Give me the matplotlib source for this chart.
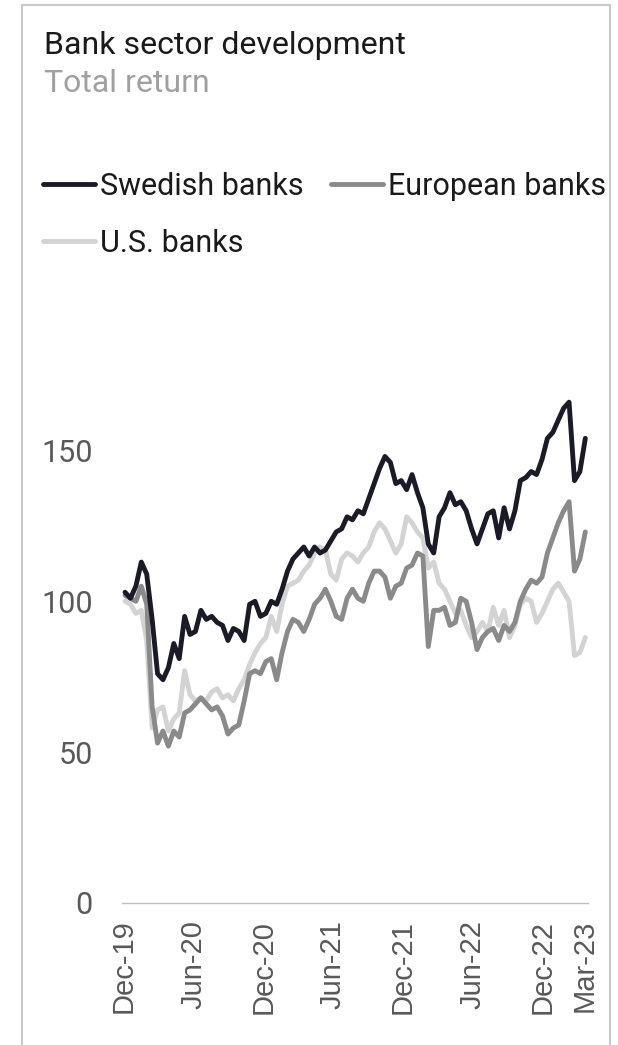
import numpy as np
import pandas as pd
import matplotlib
matplotlib.use("Agg")
import matplotlib.pyplot as plt
from matplotlib.patches import Rectangle

# Total return index, every two weeks
swedish = [103, 101, 105, 113, 109, 94, 76, 74, 78, 86, 81, 95, 89, 90, 97, 94, 95, 93, 92, 87,
           91, 90, 87, 99, 100, 95, 96, 100, 99, 104, 110, 114, 116, 118, 115, 118, 116, 117, 120, 123,
           124, 128, 127, 130, 129, 134, 139, 144, 148, 146, 139, 140, 137, 142, 136, 131, 119, 116, 128, 131,
           136, 132, 133, 130, 124, 119, 124, 129, 130, 121, 131, 124, 130, 140, 141, 143, 142, 147, 154, 156,
           160, 164, 166, 140, 143, 154]
european = [102, 101, 100, 105, 99, 65, 53, 57, 52, 57, 55, 63, 64, 66, 68, 66, 64, 65, 62, 56,
            58, 59, 67, 76, 77, 76, 80, 81, 74, 83, 90, 94, 93, 90, 94, 99, 101, 104, 100, 95,
            94, 101, 104, 101, 100, 106, 110, 110, 108, 101, 105, 106, 111, 112, 116, 115, 85, 97, 97, 98,
            92, 93, 101, 100, 93, 84, 88, 90, 91, 87, 92, 90, 93, 100, 104, 107, 106, 108, 116, 121,
            126, 130, 133, 110, 114, 123]
us = [100, 99, 96, 97, 87, 58, 64, 65, 57, 61, 63, 77, 69, 67, 68, 67, 70, 71, 68, 69,
      67, 71, 74, 79, 83, 86, 88, 95, 90, 99, 105, 106, 107, 110, 112, 116, 118, 117, 109, 107,
      114, 116, 115, 113, 116, 118, 123, 126, 124, 120, 116, 119, 128, 126, 123, 121, 111, 113, 106, 104,
      100, 96, 97, 92, 88, 90, 93, 90, 98, 92, 97, 88, 92, 99, 101, 100, 93, 96, 100, 104,
      106, 103, 100, 82, 83, 88]
series_names = ["Swedish banks", "European banks", "U.S. banks"]
series_colors = ["#1b1b27", "#8a8a8a", "#d3d3d3"]

dates = pd.date_range("2019-12-06", "2023-03-22", periods=len(swedish))
tick_dates = pd.to_datetime(["2019-12-01", "2020-06-01", "2020-12-01", "2021-06-01",
                             "2021-12-01", "2022-06-01", "2022-12-01", "2023-03-20"])
tick_labels = ["Dec-19", "Jun-20", "Dec-20", "Jun-21", "Dec-21", "Jun-22", "Dec-22", "Mar-23"]
y_ticks = [0, 50, 100, 150]

W, H = 618, 1045
fig = plt.figure(figsize=(W / 100, H / 100), dpi=100)
ax = fig.add_axes([122 / W, (H - 903) / H, (588 - 122) / W, (903 - 375) / H])

lines = []
for vals, name, col, z in zip([swedish, european, us], series_names, series_colors, [3, 2, 1]):
    ln, = ax.plot(dates, vals, color=col, lw=3.5, label=name, zorder=z,
                  solid_joinstyle="round", solid_capstyle="round")
    lines.append(ln)

ax.set_ylim(0, 175)
ax.set_xlim(pd.Timestamp("2019-11-28"), pd.Timestamp("2023-03-29"))
ax.set_yticks(y_ticks)
ax.set_yticklabels([str(v) for v in y_ticks], family="Roboto", fontsize=22, color="#595959")
ax.set_xticks(tick_dates)
ax.set_xticklabels(tick_labels, rotation=90, family="Liberation Sans", fontsize=21, color="#595959")
ax.tick_params(length=0)
ax.tick_params(axis="y", pad=21)
ax.tick_params(axis="x", pad=12)
for s in ["top", "right", "left"]:
    ax.spines[s].set_visible(False)
ax.spines["bottom"].set_color("#bfbfbf")
ax.spines["bottom"].set_linewidth(1.0)

# title block
fig.text(44 / W, 1 - 45 / H, "Bank sector development", family="Roboto", fontsize=23,
         color="#1a1a1a", va="center", ha="left")
fig.text(44 / W, 1 - 84 / H, "Total return", family="Roboto", fontsize=23,
         color="#a0a0a0", va="center", ha="left")

# legend, row-major order
lw_handles = [lines[0], lines[2], lines[1]]
fig.legend(lw_handles, [series_names[0], series_names[2], series_names[1]],
           ncol=2, loc="upper left", bbox_to_anchor=(43 / W, 1 - 172 / H), frameon=False,
           prop={"family": "Roboto", "size": 22}, labelcolor="#1a1a1a",
           handlelength=1.7, handletextpad=0.16, columnspacing=0.9, labelspacing=0.9,
           borderpad=0, borderaxespad=0)

# outer frame, open at the bottom
fig.patches.append(Rectangle((22 / W, -0.02), (610 - 22) / W, 1.02 - 5 / H,
                             transform=fig.transFigure, fill=False, ec="#c8c8c8", lw=1.5))

fig.savefig("out.png", dpi=100)
